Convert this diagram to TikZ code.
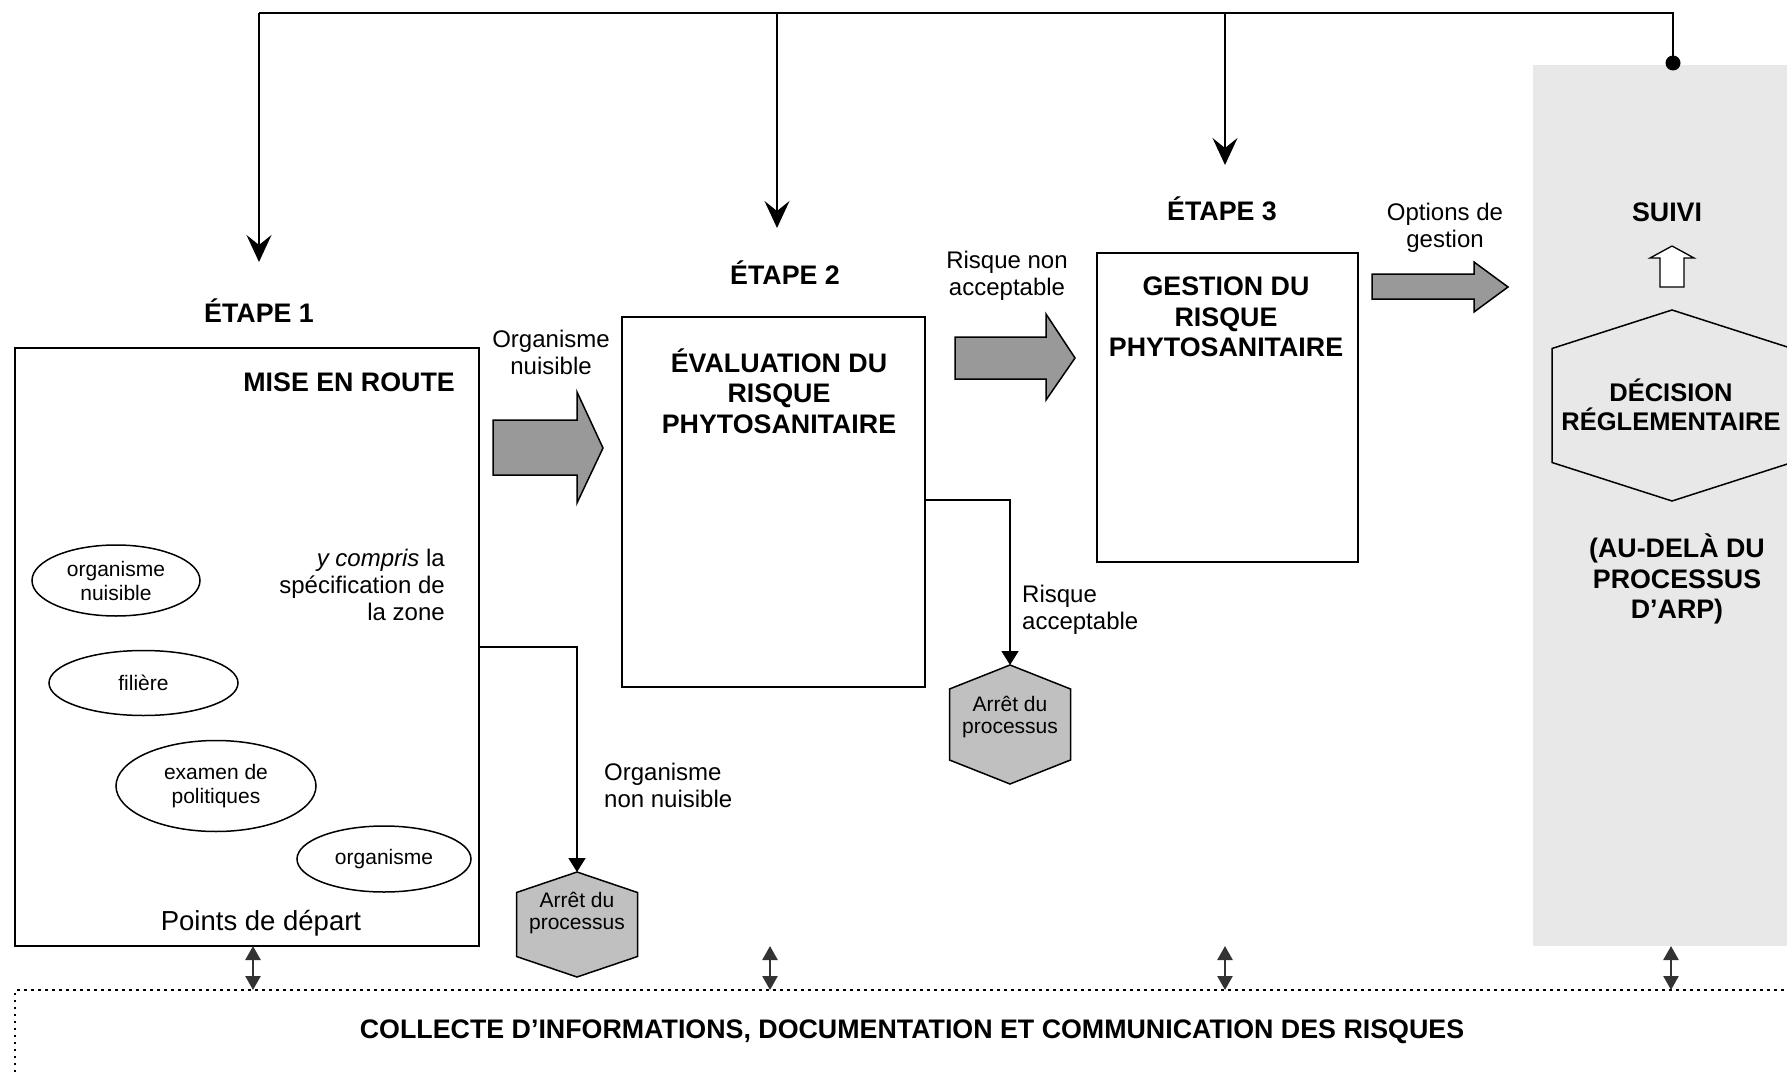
\documentclass[tikz,border=0pt]{standalone}
\usepackage{fontspec}
\setmainfont{Liberation Sans}
\usetikzlibrary{arrows.meta,calc,shapes.geometric}
\definecolor{bgpanel}{RGB}{232,232,232}
\definecolor{blockgray}{RGB}{153,153,153}
\definecolor{hexgray}{RGB}{192,192,192}
\definecolor{dblgray}{RGB}{51,51,51}
\newcommand\mydrawhex[6]{\draw[#1] (#2,#3-#5) -- (#2+#4,#3-#6) -- (#2+#4,#3+#6) -- (#2,#3+#5) -- (#2-#4,#3+#6) -- (#2-#4,#3-#6) -- cycle;}
\begin{document}
\begin{tikzpicture}[x=1pt,y=-1pt,line join=miter,
  tnorm/.style={font=\fontsize{24}{27}\selectfont, align=center, inner sep=0pt},
  tbold/.style={font=\bfseries\fontsize{26.8}{30.5}\selectfont, align=center, inner sep=0pt},
  tsmall/.style={font=\fontsize{21}{22}\selectfont, align=center, inner sep=0pt},
  stagebox/.style={draw, line width=1.8pt, inner sep=0pt},
  oval/.style={ellipse, draw, line width=1.5pt, inner sep=0pt, font=\fontsize{21}{24}\selectfont, align=center},
  blockarrow/.style={draw, line width=1.5pt, fill=blockgray},
  fb/.style={line width=1.8pt},
  fbarrow/.style={line width=1.8pt, -{Stealth[length=27pt,width=25pt,inset=10pt]}},
  hexstyle/.style={draw, line width=1.5pt, fill=hexgray},
  stoparrow/.style={line width=1.8pt, -{Triangle[length=14pt,width=17pt]}},
  dbl/.style={draw=dblgray, line width=2.5pt, {Triangle[length=14pt,width=15pt]}-{Triangle[length=14pt,width=15pt]}},
  dotbox/.style={line width=2.5pt, dash pattern=on 2.5pt off 4.5pt}
]
\useasboundingbox (0,0) rectangle (1787,1075);
\clip (0,0) rectangle (1787,1075);

% grey panel (beyond the process)
\fill[bgpanel] (1533,65) rectangle (1800,946);

% stage boxes
\node[stagebox, minimum width=464pt, minimum height=598pt] (box1) at (247,647) {};
\node[stagebox, minimum width=303pt, minimum height=370pt] (box2) at (773.5,502) {};
\node[stagebox, minimum width=261pt, minimum height=309pt] (box3) at (1227.5,407.5) {};

% stage labels
\node[tbold] (etape1) at (259,311) {ÉTAPE 1};
\node[tbold] (etape2) at (785,273) {ÉTAPE 2};
\node[tbold] (etape3) at (1222,209) {ÉTAPE 3};

% box titles
\node[tbold, anchor=east] (t1) at (455,382) {MISE EN ROUTE};
\node[tbold] (t2) at (779,391) {ÉVALUATION DU\\RISQUE\\PHYTOSANITAIRE};
\node[tbold] (t3) at (1226,317) {GESTION DU\\RISQUE\\PHYTOSANITAIRE};

% box 1 content
\node[tnorm, align=right, anchor=east] (ycompris) at (445,585) {\textit{y compris} la\\spécification de\\la zone};
\node[oval, minimum width=168pt, minimum height=71pt] (e1) at (116,580.5) {organisme\\nuisible};
\node[oval, minimum width=189pt, minimum height=65pt] (e2) at (143.5,683) {filière};
\node[oval, minimum width=200pt, minimum height=91pt] (e3) at (216,786) {examen de\\politiques};
\node[oval, minimum width=174pt, minimum height=66pt] (e4) at (384,859) {organisme};
\node[font=\fontsize{27.5}{30}\selectfont, inner sep=0pt] (pdd) at (261,923) {Points de départ};

% block arrows
\draw[blockarrow] (493,420) -- (577,420) -- (577,392) -- (603,448) -- (577,503) -- (577,475) -- (493,475) -- cycle;
\draw[blockarrow] (955,337) -- (1046,337) -- (1046,314) -- (1075,358) -- (1046,400) -- (1046,379) -- (955,379) -- cycle;
\draw[blockarrow] (1372,274) -- (1474,274) -- (1474,262) -- (1508,287) -- (1474,312) -- (1474,299) -- (1372,299) -- cycle;

% arrow labels
\node[tnorm] (l1) at (551,352) {Organisme\\nuisible};
\node[tnorm] (l2) at (1007,276) {Risque non\\acceptable};
\node[tnorm] (l3) at (1445,228) {Options de\\gestion};
\node[tnorm, align=left, anchor=west] (l4) at (1022,610) {Risque\\acceptable};
\node[tnorm, align=left, anchor=west] (l5) at (604,785) {Organisme\\non nuisible};

% stop hexagons
\mydrawhex{hexstyle}{577}{924.5}{60.5}{52.5}{32}
\coordinate (hex1top) at (577,872);
\node[tsmall] (hex1) at (577,913) {Arrêt du\\processus};
\mydrawhex{hexstyle}{1010}{724.5}{60.5}{59.5}{35.5}
\coordinate (hex2top) at (1010,665);
\node[tsmall] (hex2) at (1010,717) {Arrêt du\\processus};

\draw[stoparrow] (box1.east) -| (hex1top);
\draw[stoparrow] (box2.east |- 0,500) -| (hex2top);

% decision hexagon and follow-up
\mydrawhex{draw, line width=1.5pt}{1672}{405.5}{120}{95.5}{57}
\node[font=\bfseries\fontsize{25.5}{29}\selectfont, align=center, inner sep=0pt] (dec) at (1671,405) {DÉCISION\\RÉGLEMENTAIRE};
\node[tbold] (suivi) at (1667,212) {SUIVI};
\draw[line width=1.3pt, fill=white] (1660,287) -- (1660,258) -- (1650,258) -- (1672,246) -- (1694,258) -- (1684,258) -- (1684,287) -- cycle;
\node[tbold] (audela) at (1677,579) {(AU-DELÀ DU\\PROCESSUS\\D’ARP)};

% feedback loop on top
\node[circle, fill=black, inner sep=0pt, minimum size=15pt] (gdot) at (1673,63) {};
\coordinate (c1) at (259,13);
\coordinate (c2) at (777,13);
\coordinate (c3) at (1225,13);
\coordinate (c4) at (1673,13);
\coordinate (a1) at (259,262);
\coordinate (a2) at (777,228);
\coordinate (a3) at (1225,165);
\draw[fb] (gdot.center) -- (c4) -- (c1);
\draw[fbarrow] (c1) -- (a1);
\draw[fbarrow] (c2) -- (a2);
\draw[fbarrow] (c3) -- (a3);

% information collection box
\draw[dotbox] (15,1100) -- (15,990) -- (1800,990);
\node[tbold] (collecte) at (912,1032) {COLLECTE D’INFORMATIONS, DOCUMENTATION ET COMMUNICATION DES RISQUES};

% double arrows
\coordinate (d1t) at (253,946); \coordinate (d1b) at (253,990);
\coordinate (d2t) at (770,946); \coordinate (d2b) at (770,990);
\coordinate (d3t) at (1225,946); \coordinate (d3b) at (1225,990);
\coordinate (d4t) at (1671,946); \coordinate (d4b) at (1671,990);
\draw[dbl] (d1t) -- (d1b);
\draw[dbl] (d2t) -- (d2b);
\draw[dbl] (d3t) -- (d3b);
\draw[dbl] (d4t) -- (d4b);
\end{tikzpicture}
\end{document}
